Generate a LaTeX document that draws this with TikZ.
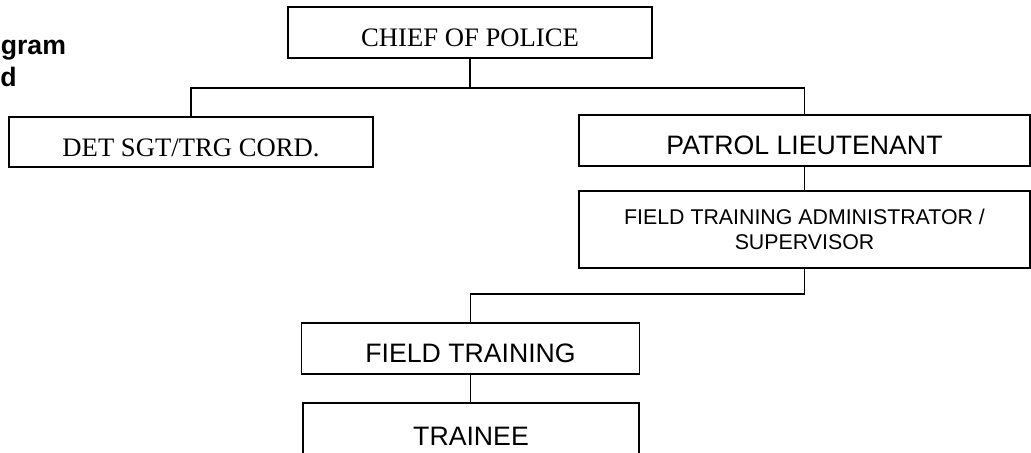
\documentclass[tikz,border=0pt]{standalone}
\usepackage{fontspec}
\setmainfont{Liberation Serif}
\setsansfont{Liberation Sans}
\usepackage{tikz}

\begin{document}
\begin{tikzpicture}[x=0.75pt,y=-0.75pt,
	box/.style={draw,line width=1.4pt,inner sep=0pt},
	roman/.style={font=\fontsize{20}{24}\selectfont,text height=21pt,text depth=0pt},
	sans/.style={font=\sffamily\fontsize{20}{24}\selectfont,text height=21pt,text depth=0pt},
	small/.style={font=\sffamily\fontsize{16}{18.75}\selectfont,align=center},
	heading/.style={anchor=base west,font=\sffamily\bfseries\fontsize{20}{24}\selectfont,inner sep=0pt},
	link/.style={line width=1.4pt}]
	\useasboundingbox (0,0) rectangle (1031,453);
	\clip (0,0) rectangle (1031,453);
	
	%cut-off title
	\node[heading] (titleA) at (0.5,55) {gram};
	\node[heading] (titleB) at (0,87) {d};
	
	%boxes
	\node[box,roman,minimum width=273pt,minimum height=38.25pt] (chief) at (470,32.5) {CHIEF OF POLICE};
	\node[box,roman,minimum width=273pt,minimum height=37.5pt] (det) at (191,142) {DET SGT/TRG CORD.};
	\node[box,sans,minimum width=338.25pt,minimum height=38.25pt] (patrol) at (804.5,140.5) {PATROL LIEUTENANT};
	\node[box,small,minimum width=338.25pt,minimum height=57.75pt] (fta) at (804.5,229.5) {FIELD TRAINING ADMINISTRATOR /\\SUPERVISOR};
	\node[box,sans,minimum width=253.5pt,minimum height=38.25pt] (ft) at (470.5,348.5) {FIELD TRAINING};
	\node[box,sans,minimum width=252pt,minimum height=42pt] (trainee) at (471,431) {TRAINEE};
	
	%junctions
	\coordinate (bus) at (470,88);
	\coordinate (fork) at (804.5,294);
	
	%connectors
	\draw[link] (chief.south) -- (bus);
	\draw[link] (det.north) |- (bus) -| (patrol.north);
	\draw[link] (patrol.south) -- (fta.north);
	\draw[link] (ft.north) |- (fork) -- (fta.south);
	\draw[link] (ft.south) -- (ft.south |- trainee.north);
	
\end{tikzpicture}
\end{document}
